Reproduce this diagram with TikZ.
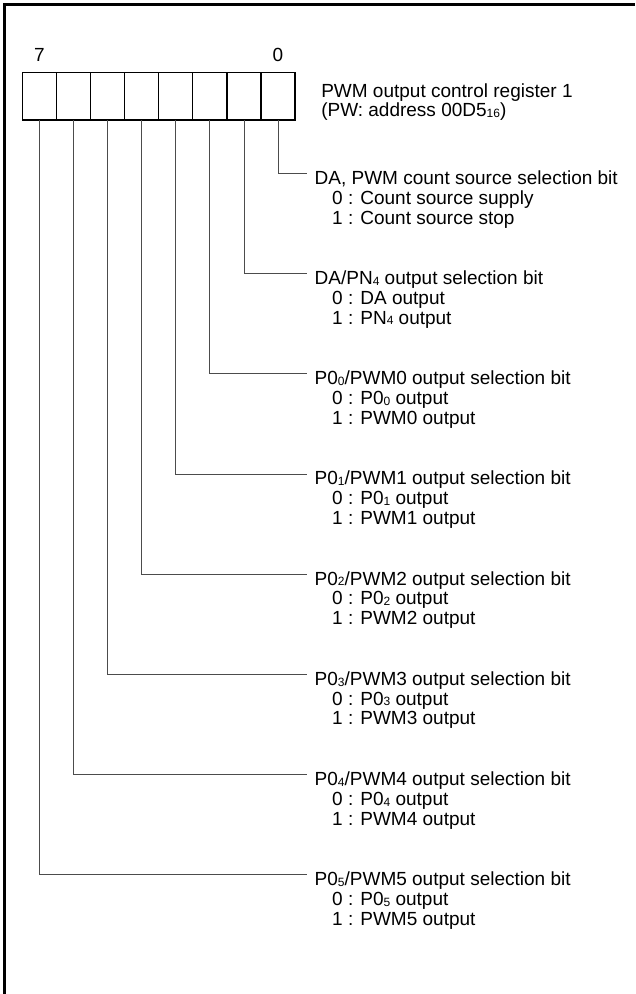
\documentclass[tikz,border=0pt]{standalone}
\usepackage{fontspec}
\setmainfont{Liberation Sans}
\usetikzlibrary{positioning}
\newcommand{\stdfont}{\fontsize{19}{19.8}\selectfont}
\newcommand{\lowidx}[1]{\raisebox{-0.8pt}{\fontsize{12}{12}\selectfont #1}}

\begin{document}
\begin{tikzpicture}[x=1pt, y=1pt, font=\stdfont,
    cell/.style={draw, line width=1.3pt, minimum width=34.09pt, minimum height=47.7pt, inner sep=0pt, outer sep=0pt},
    bitno/.style={inner sep=0pt},
    leader/.style={draw=black!70, line width=0.8pt},
    bitname/.style={anchor=west, inner xsep=7.5pt, inner ysep=0pt, text height=22pt, text depth=0pt},
    bitval/.style={align=left, inner sep=0pt}]
        \useasboundingbox (0,0) rectangle (635,-994);
        % frame
        \draw[line width=3pt] (4.5,-994) -- (4.5,-4.5) -- (635,-4.5);

        % register
        \node[cell] (b7) at (39.4,-96.15) {};
        \node[cell, right=0pt of b7] (b6) {};
        \node[cell, right=0pt of b6] (b5) {};
        \node[cell, right=0pt of b5] (b4) {};
        \node[cell, right=0pt of b4] (b3) {};
        \node[cell, right=0pt of b3] (b2) {};
        \node[cell, right=0pt of b2] (b1) {};
        \node[cell, right=0pt of b1] (b0) {};
        \node[bitno, above=10.5pt of b7] (n7) {7};
        \node[bitno, above=10.5pt of b0] (n0) {0};
        \node[bitval, below right=10.8pt and 26pt of b0.north east] (reg)
        {PWM output control register 1\\(PW: address 00D5\lowidx{16})};

        % bit 0
        \node[bitname] (t0) at (307,-173.3) {DA, PWM count source selection bit};
        \node[bitval, below right=6.2pt and 25pt of t0.south west] (v0)
        {0 : Count source supply\\1 : Count source stop};
        \draw[leader] (b0.south) |- (t0.west);

        % bit 1
        \node[bitname] (t1) at (307,-273.5) {DA/PN\lowidx{4} output selection bit};
        \node[bitval, below right=6.2pt and 25pt of t1.south west] (v1)
        {0 : DA output\\1 : PN\lowidx{4} output};
        \draw[leader] (b1.south) |- (t1.west);

        % bit 2
        \node[bitname] (t2) at (307,-373.7) {P0\lowidx{0}/PWM0 output selection bit};
        \node[bitval, below right=6.2pt and 25pt of t2.south west] (v2)
        {0 : P0\lowidx{0} output\\1 : PWM0 output};
        \draw[leader] (b2.south) |- (t2.west);

        % bit 3
        \node[bitname] (t3) at (307,-473.9) {P0\lowidx{1}/PWM1 output selection bit};
        \node[bitval, below right=6.2pt and 25pt of t3.south west] (v3)
        {0 : P0\lowidx{1} output\\1 : PWM1 output};
        \draw[leader] (b3.south) |- (t3.west);

        % bit 4
        \node[bitname] (t4) at (307,-574.1) {P0\lowidx{2}/PWM2 output selection bit};
        \node[bitval, below right=6.2pt and 25pt of t4.south west] (v4)
        {0 : P0\lowidx{2} output\\1 : PWM2 output};
        \draw[leader] (b4.south) |- (t4.west);

        % bit 5
        \node[bitname] (t5) at (307,-674.3) {P0\lowidx{3}/PWM3 output selection bit};
        \node[bitval, below right=6.2pt and 25pt of t5.south west] (v5)
        {0 : P0\lowidx{3} output\\1 : PWM3 output};
        \draw[leader] (b5.south) |- (t5.west);

        % bit 6
        \node[bitname] (t6) at (307,-774.5) {P0\lowidx{4}/PWM4 output selection bit};
        \node[bitval, below right=6.2pt and 25pt of t6.south west] (v6)
        {0 : P0\lowidx{4} output\\1 : PWM4 output};
        \draw[leader] (b6.south) |- (t6.west);

        % bit 7
        \node[bitname] (t7) at (307,-874.7) {P0\lowidx{5}/PWM5 output selection bit};
        \node[bitval, below right=6.2pt and 25pt of t7.south west] (v7)
        {0 : P0\lowidx{5} output\\1 : PWM5 output};
        \draw[leader] (b7.south) |- (t7.west);
    \end{tikzpicture}
\end{document}
